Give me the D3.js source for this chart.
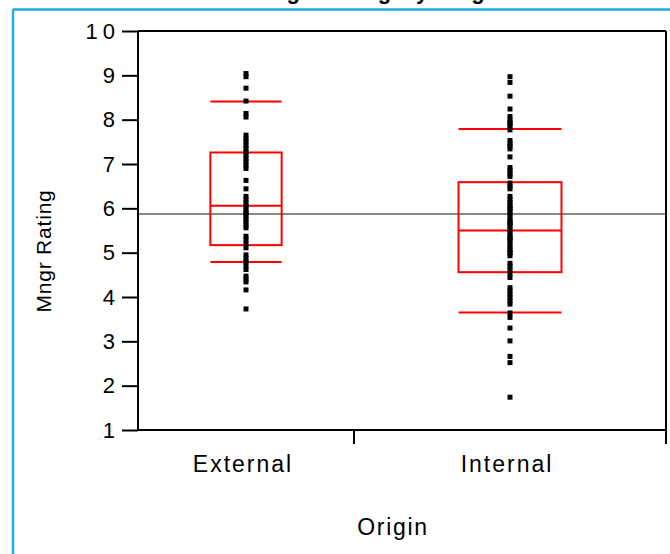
<!DOCTYPE html>
<html>
<head>
<meta charset="utf-8">
<script src="https://cdn.jsdelivr.net/npm/d3@7"></script>
<style>
  html, body { margin: 0; padding: 0; background: #fff; }
  svg { display: block; font-family: "Liberation Sans", Arial, Helvetica, sans-serif; }
</style>
</head>
<body>
<svg id="chart" width="670" height="554"></svg>
<script>
// ---- data ----
const categories = ["External", "Internal"];
const externalRatings = [
  9.04, 8.97, 8.71, 8.42, 8.14, 8.06,
  7.65, 7.57, 7.50, 7.42, 7.35, 7.27, 7.20, 7.12, 7.05, 6.97, 6.90,
  6.63, 6.44,
  6.27, 6.20, 6.12, 6.05, 5.98, 5.90, 5.90, 5.83, 5.76, 5.69, 5.62, 5.56,
  5.37, 5.29, 5.20, 5.11,
  4.95, 4.87, 4.79, 4.70, 4.62,
  4.47, 4.40, 4.34, 4.16, 3.73
];
const internalRatings = [
  8.97, 8.84, 8.53, 8.24,
  8.07, 7.99, 7.92, 7.92, 7.84, 7.77,
  7.53, 7.46, 7.40, 7.34, 7.16,
  6.92, 6.85, 6.78, 6.72, 6.57, 6.50, 6.44,
  6.27, 6.20, 6.13, 6.07, 6.00, 6.00, 5.93, 5.87, 5.80, 5.73, 5.67, 5.67, 5.60,
  5.53, 5.47, 5.40, 5.33, 5.33, 5.27, 5.20, 5.13, 5.07, 5.00, 5.00, 4.93,
  4.76, 4.69, 4.61, 4.53, 4.44,
  4.21, 4.14, 4.06, 3.99, 3.91, 3.84,
  3.64, 3.54, 3.30, 3.01, 2.66, 2.52, 1.74
];
// quantile box summaries per category: [whiskerLow, q1, median, q3, whiskerHigh]
const boxExternal = [4.79, 5.17, 6.06, 7.26, 8.41];
const boxInternal = [3.65, 4.56, 5.50, 6.59, 7.79];
const grandMean = 5.87;
const yTicks = [1, 2, 3, 4, 5, 6, 7, 8, 9, 10];
const titleText = "Mngr Rating By Origin";
const yLabel = "Mngr Rating";
const xLabel = "Origin";

// ---- layout ----
const svg = d3.select("#chart");
const plotLeft = 138, plotRight = 666, plotTop = 31, plotBottom = 430;

const groups = [
  { name: categories[0], values: externalRatings, box: boxExternal },
  { name: categories[1], values: internalRatings, box: boxInternal }
];
let cum = 0;
groups.forEach(g => { g.start = cum; cum += g.values.length; g.end = cum; });

const x = d3.scaleLinear().domain([0, cum]).range([plotLeft, plotRight]);
const y = d3.scaleLinear().domain([1, 10]).range([plotBottom, plotTop]);

// blue frame
svg.append("line").attr("x1", 13).attr("x2", 13).attr("y1", 9.5).attr("y2", 560)
  .attr("stroke", "#1AADE6").attr("stroke-width", 2.5);
svg.append("line").attr("x1", 13).attr("x2", 680).attr("y1", 9.5).attr("y2", 9.5)
  .attr("stroke", "#1AADE6").attr("stroke-width", 2.5);

// title (mostly clipped above the frame, as in the reference)
svg.append("text").attr("x", 380).attr("y", -1).attr("text-anchor", "middle")
  .attr("font-size", 22).attr("font-weight", "bold").style("letter-spacing", "1px")
  .text(titleText);

// mean line
svg.append("line").attr("x1", plotLeft).attr("x2", plotRight)
  .attr("y1", y(grandMean)).attr("y2", y(grandMean))
  .attr("stroke", "#888").attr("stroke-width", 2);

// boxes
groups.forEach(g => {
  const cx = (x(g.start) + x(g.end)) / 2;
  const hw = (x(g.end) - x(g.start)) * 0.33 / 2;
  const [wl, q1, med, q3, wh] = g.box;
  const gg = svg.append("g").attr("stroke", "#FF0000").attr("stroke-width", 2).attr("fill", "none");
  gg.append("rect").attr("x", cx - hw).attr("y", y(q3)).attr("width", 2 * hw).attr("height", y(q1) - y(q3));
  [wl, med, wh].forEach(v => {
    gg.append("line").attr("x1", cx - hw).attr("x2", cx + hw).attr("y1", y(v)).attr("y2", y(v));
  });
});

// points
groups.forEach(g => {
  const cx = (x(g.start) + x(g.end)) / 2;
  svg.append("g").selectAll("rect").data(g.values).join("rect")
    .attr("x", cx - 2.5).attr("y", d => y(d) - 2.5)
    .attr("width", 5).attr("height", 5).attr("fill", "#000");
});

// frame: top and right
svg.append("line").attr("x1", plotLeft).attr("x2", plotRight).attr("y1", plotTop).attr("y2", plotTop)
  .attr("stroke", "#000").attr("stroke-width", 2);
svg.append("line").attr("x1", plotRight).attr("x2", plotRight).attr("y1", plotTop).attr("y2", 444)
  .attr("stroke", "#000").attr("stroke-width", 2);

// y axis
const yAxis = svg.append("g").attr("transform", `translate(${plotLeft},0)`)
  .call(d3.axisLeft(y).tickValues(yTicks).tickSize(16).tickPadding(7).tickFormat(d3.format("d")));
yAxis.selectAll("path, line").attr("stroke", "#000").attr("stroke-width", 2);
yAxis.select(".domain").attr("d", `M0,${plotTop}V${plotBottom + 1}`);
yAxis.selectAll("text").attr("font-size", 22).attr("fill", "#000")
  .attr("font-family", "Liberation Sans, Arial, sans-serif")
  .style("letter-spacing", "5px").attr("dx", 5);

// x axis
const xAxis = svg.append("g").attr("transform", `translate(0,${plotBottom})`);
xAxis.append("line").attr("x1", plotLeft).attr("x2", plotRight).attr("y1", 0).attr("y2", 0)
  .attr("stroke", "#000").attr("stroke-width", 2);
groups.forEach(g => {
  xAxis.append("line").attr("x1", x(g.end)).attr("x2", x(g.end)).attr("y1", 0).attr("y2", 14)
    .attr("stroke", "#000").attr("stroke-width", 2);
  xAxis.append("text").attr("x", (x(g.start) + x(g.end)) / 2 - 3).attr("y", 42)
    .attr("text-anchor", "middle").attr("font-size", 23).style("letter-spacing", "2px")
    .text(g.name);
});

// axis titles
svg.append("text").attr("x", 393).attr("y", 535).attr("text-anchor", "middle")
  .attr("font-size", 23).style("letter-spacing", "1.7px").text(xLabel);
svg.append("text").attr("transform", "translate(51,251) rotate(-90)")
  .attr("text-anchor", "middle").attr("font-size", 21).style("letter-spacing", "0.8px").text(yLabel);
</script>
</body>
</html>
